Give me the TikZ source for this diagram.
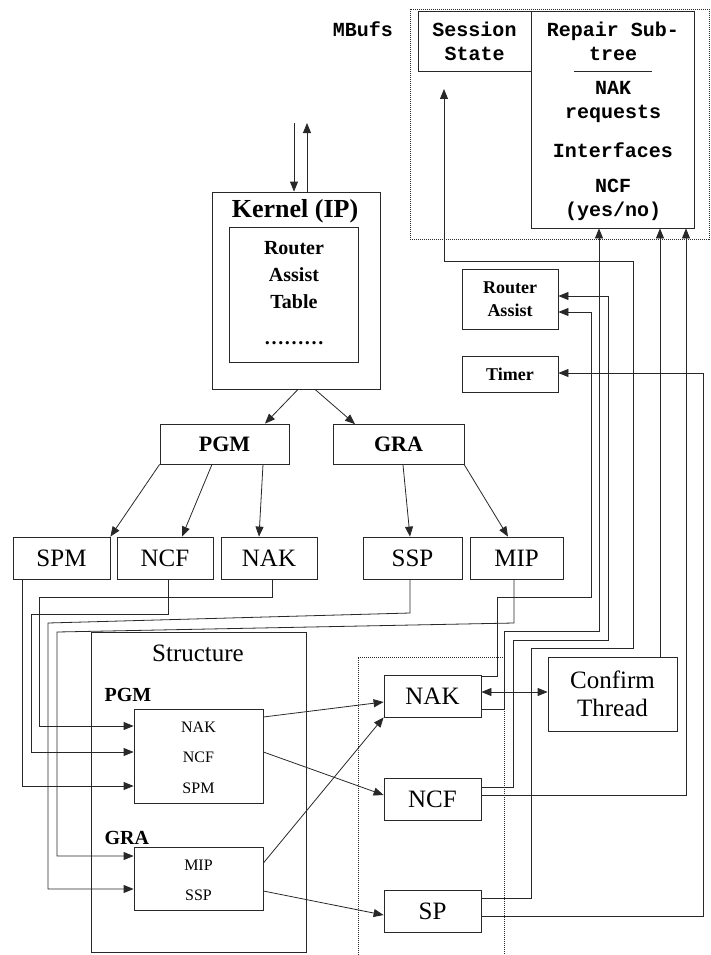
\documentclass[tikz,border=0pt]{standalone}
\usepackage{fontspec}
\setmainfont{Liberation Serif}
\setmonofont{Liberation Mono}
\usetikzlibrary{arrows.meta}
\definecolor{lngray}{RGB}{40,40,40}

\begin{document}
\begin{tikzpicture}[x=1pt, y=-1pt,
    box/.style={draw=lngray, line width=0.8pt, inner sep=0pt},
    wire/.style={lngray, line width=0.8pt},
    arr/.style={wire, -{Triangle[length=10pt,width=8pt]}},
    arrs/.style={wire, {Triangle[length=10pt,width=8pt]}-{Triangle[length=10pt,width=8pt]}},
    frame/.style={lngray, line width=0.7pt, dash pattern=on 1pt off 1pt},
    lbl/.style={font=\fontsize{25}{28}\selectfont},
    hdr/.style={font=\fontsize{22}{26}\selectfont\bfseries},
    tbl/.style={font=\fontsize{20}{27}\selectfont\bfseries},
    sbf/.style={font=\fontsize{18}{23}\selectfont\bfseries},
    sub/.style={font=\fontsize{20}{24}\selectfont\bfseries},
    fine/.style={font=\fontsize{16}{19}\selectfont},
    mono/.style={font=\fontsize{20}{24}\selectfont\ttfamily\bfseries}]
  \useasboundingbox (0,0) rectangle (710,955);

  % MBufs: session state and repair sub-tree
  \draw[frame] (410,9) rectangle (709,239);
  \node[mono] (mbufs) at (363,29) {MBufs};
  \node[box, mono, align=center, minimum width=113pt, minimum height=60pt]
    (session) at (474.5,41) {Session\\State};
  \node[box, minimum width=163pt, minimum height=217pt] (repair) at (612.5,119.5) {};
  \node[mono, align=center] (rtitle) at (613,41) {Repair Sub-\\tree};
  \draw[wire] (574,71) -- (652,71);
  \node[mono, align=center] (rnak) at (613,102) {NAK\\requests};
  \node[mono] (rif) at (613,150) {Interfaces};
  \node[mono, align=center] (rncf) at (613,199.5) {NCF\\(yes/no)};

  % Kernel with router assist table
  \node[box, minimum width=168pt, minimum height=197pt] (kernel) at (296,290.5) {};
  \node[font=\fontsize{26}{28}\selectfont\bfseries] (ktitle) at (295,211) {Kernel (IP)};
  \node[box, minimum width=129pt, minimum height=135pt] (ktable) at (293.5,294.5) {};
  \node[tbl, align=center] (ktext) at (294,275) {Router\\Assist\\Table};
  \node[tbl] (kdots) at (294,343) {………};
  \coordinate (kin) at (294,123);
  \coordinate (kout) at (307,123);
  \draw[arr] (kin) -- (kin |- kernel.north);
  \draw[arr] (kout |- kernel.north) -- (kout);

  % Protocol layer
  \node[box, hdr, minimum width=129pt, minimum height=40pt] (pgm) at (224.5,444) {PGM};
  \node[box, hdr, minimum width=131pt, minimum height=40pt] (gra) at (398.5,444.5) {GRA};
  \draw[arr] (kernel.south -| 298,0) -- (pgm.north -| 265,0);
  \draw[arr] (kernel.south -| 315,0) -- (gra.north -| 355,0);

  % Packet types
  \node[box, lbl, minimum width=97pt, minimum height=42pt] (spm) at (61.5,558) {SPM};
  \node[box, lbl, minimum width=96pt, minimum height=42pt] (ncf) at (165,558) {NCF};
  \node[box, lbl, minimum width=96pt, minimum height=42pt] (nak) at (269,558) {NAK};
  \node[box, lbl, minimum width=99pt, minimum height=42pt] (ssp) at (412.5,558) {SSP};
  \node[box, lbl, minimum width=93pt, minimum height=42pt] (mip) at (516.5,558) {MIP};
  \draw[arr] (pgm.south west) -- (spm.north east);
  \draw[arr] (pgm.south -| 212,0) -- (ncf.north -| 182,0);
  \draw[arr] (pgm.south -| 263,0) -- (nak.north -| 259,0);
  \draw[arr] (gra.south -| 403,0) -- (ssp.north -| 410,0);
  \draw[arr] (gra.south east) -- (mip.north -| 508,0);

  % Structure
  \node[box, minimum width=215pt, minimum height=320pt] (struct) at (198.5,792) {};
  \node[lbl] (stitle) at (198,653) {Structure};
  \node[sub, anchor=west] (spgm) at (101,695) {PGM};
  \node[box, minimum width=129pt, minimum height=94pt] (pgmin) at (198.5,756) {};
  \node[fine] (inak) at (198.5,727) {NAK};
  \node[fine] (incf) at (198.5,757) {NCF};
  \node[fine] (ispm) at (198.5,788) {SPM};
  \node[sub, anchor=west] (sgra) at (101,838) {GRA};
  \node[box, minimum width=129pt, minimum height=63pt] (grain) at (198.5,878.5) {};
  \node[fine] (imip) at (198.5,865) {MIP};
  \node[fine] (issp) at (198.5,895) {SSP};

  % Packets into structure
  \draw[arr] (spm.south -| 22,0) |- (pgmin.west |- 0,786);
  \draw[arr] (ncf.south -| 168,0) |- (31,614) |- (pgmin.west |- 0,752);
  \draw[arr] (nak.south -| 272,0) |- (39,597) |- (pgmin.west |- 0,726);
  \draw[arr] (ssp.south -| 410,0) -- (410,613) -- (48,623) |- (grain.west |- 0,889);
  \draw[arr] (mip.south -| 514,0) -- (514,623) -- (57,632) |- (grain.west |- 0,856);

  % Handlers
  \draw[frame] (358,955) -- (358,657) -- (504,657) -- (504,955);
  \node[box, lbl, minimum width=97pt, minimum height=42pt] (nakR) at (432.5,696) {NAK};
  \node[box, lbl, minimum width=97pt, minimum height=42pt] (ncfR) at (432.5,799) {NCF};
  \node[box, lbl, minimum width=97pt, minimum height=42pt] (spR) at (432.5,911) {SP};
  \node[box, lbl, align=center, minimum width=129pt, minimum height=74pt]
    (confirm) at (612.5,694) {Confirm\\Thread};
  \draw[arr] (pgmin.east |- 0,717) -- (nakR.west |- 0,702);
  \draw[arr] (pgmin.east |- 0,752) -- (ncfR.west |- 0,795);
  \draw[arr] (grain.east |- 0,863) -- (nakR.south west);
  \draw[arr] (grain.east |- 0,891) -- (spR.west |- 0,915);
  \draw[arrs] (nakR.east |- 0,692) -- (confirm.west |- 0,692);

  % Router assist and timer
  \node[box, sbf, align=center, minimum width=96pt, minimum height=60pt]
    (router) at (510,299) {Router\\Assist};
  \node[box, sbf, minimum width=96pt, minimum height=36pt] (timer) at (510,374) {Timer};
  \coordinate (ssin) at (444,89);

  % Handlers up to tables
  \draw[arr] (nakR.east |- 0,676) -| (497,597) -| (591,312) -- (router.east |- 0,312);
  \draw[arr] (nakR.east |- 0,709) -| (504,631) -| (repair.south -| 599,0);
  \draw[arr] (ncfR.east |- 0,787) -| (513,640) -| (608,296) -- (router.east |- 0,296);
  \draw[arr] (ncfR.east |- 0,795) -| (repair.south -| 686,0);
  \draw[arr] (spR.east |- 0,898) -| (531,648) -| (633,261) -| (ssin);
  \draw[arr] (spR.east |- 0,916) -| (703,373) -- (timer.east |- 0,373);
  \draw[arr] (confirm.north -| 660,0) -- (repair.south -| 660,0);
\end{tikzpicture}
\end{document}
